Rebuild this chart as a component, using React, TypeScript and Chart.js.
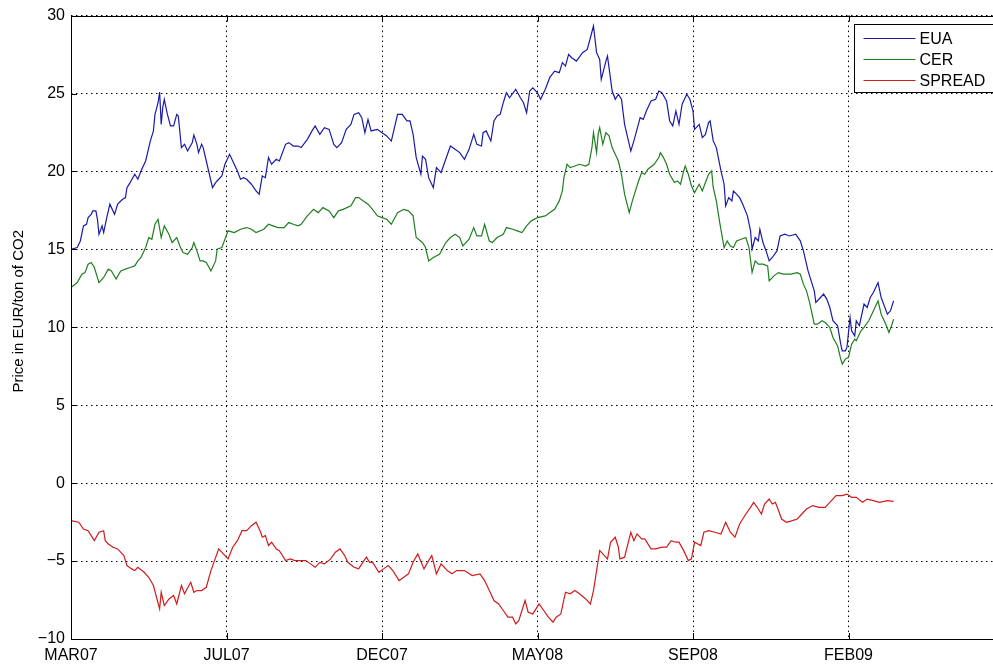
import React, { useEffect, useRef } from "react";
import { Chart, registerables } from "chart.js";

Chart.register(...registerables);

// ---- data (x = trading-day index, ticks every 100 days) ----
const xTickValues = [0, 100, 200, 300, 400, 500, 600];
const xTickLabels = ["MAR07", "JUL07", "DEC07", "MAY08", "SEP08", "FEB09", ""];
const yTickValues = [-10, -5, 0, 5, 10, 15, 20, 25, 30];
const seriesLabels = ["EUA", "CER", "SPREAD"];
const seriesColors = ["#1a1aa8", "#1f7f1f", "#d01c1c"];

const euaDays = [
  0, 4, 6, 8, 10, 11, 13, 14, 16, 17, 18, 20, 21, 23, 25, 28, 30, 33, 35, 36, 38, 41, 43, 45, 48, 51, 53, 54, 56, 57,
  58, 59, 60, 62, 64, 66, 68, 69, 71, 73, 75, 78, 79, 81, 82, 84, 85, 87, 91, 93, 95, 97, 99, 102, 104, 107, 109, 111,
  113, 116, 119, 121, 123, 125, 127, 129, 132, 134, 138, 140, 143, 146, 148, 152, 155, 157, 160, 163, 166, 169, 171,
  174, 177, 180, 182, 185, 187, 189, 191, 193, 197, 200, 203, 206, 210, 213, 216, 218, 220, 222, 225, 226, 228, 230,
  233, 235, 238, 241, 244, 247, 250, 253, 256, 259, 261, 264, 265, 267, 270, 272, 274, 276, 278, 280, 282, 286, 289,
  291, 293, 295, 297, 300, 302, 305, 308, 311, 314, 316, 318, 320, 322, 325, 329, 332, 334, 336, 338, 340, 341, 344,
  345, 346, 348, 350, 352, 354, 356, 360, 362, 364, 366, 368, 370, 373, 376, 378, 380, 383, 385, 387, 389, 391, 393,
  396, 398, 400, 401, 404, 406, 408, 410, 411, 413, 415, 418, 420, 421, 423, 425, 426, 428, 430, 432, 435, 437, 438,
  440, 442, 443, 445, 447, 449, 451, 454, 456, 459, 462, 466, 469, 471, 474, 478, 479, 482, 484, 486, 488, 490, 493,
  495, 496, 498, 499, 501, 502, 504, 505, 507, 510, 512, 514, 516, 519, 521, 525, 527, 529,
];
const euaPrices = [
  15.0, 15.12, 15.54, 16.51, 16.61, 17.04, 17.25, 17.47, 17.47, 16.93, 15.97, 16.51, 16.08, 17.04, 17.9, 17.25, 17.9,
  18.2, 18.32, 18.96, 19.28, 19.82, 19.5, 20.03, 20.67, 21.95, 22.6, 23.66, 24.41, 25.1, 23.02, 24.09, 24.63, 23.66,
  22.92, 22.92, 23.66, 23.56, 21.53, 21.74, 21.31, 21.85, 22.34, 21.74, 21.21, 21.74, 21.53, 20.67, 18.96, 19.28, 19.5,
  19.71, 20.46, 21.1, 20.67, 20.03, 19.5, 19.6, 19.5, 19.18, 18.75, 18.54, 19.71, 19.6, 20.89, 20.46, 20.78, 20.67,
  21.74, 21.85, 21.63, 21.63, 21.53, 22.06, 22.6, 22.92, 22.38, 22.81, 22.7, 21.74, 21.53, 21.85, 22.7, 23.02, 23.66,
  23.77, 23.45, 22.49, 23.34, 22.6, 22.7, 22.49, 22.28, 21.95, 23.66, 23.66, 23.24, 23.24, 22.38, 20.89, 19.82, 20.99,
  20.78, 19.6, 18.96, 20.25, 19.93, 20.78, 21.63, 21.42, 21.21, 20.78, 21.42, 22.38, 21.74, 21.63, 22.49, 22.6, 21.95,
  23.24, 23.56, 23.66, 24.41, 25.05, 24.73, 25.27, 24.73, 24.41, 23.77, 25.16, 25.37, 25.05, 24.63, 25.27, 26.05,
  26.44, 26.34, 26.98, 26.76, 27.51, 27.3, 27.08, 27.62, 27.83, 28.58, 29.33, 27.62, 27.19, 25.91, 27.08, 27.4, 26.66,
  25.16, 24.63, 24.95, 24.63, 23.02, 21.31, 21.96, 22.7, 23.45, 23.34, 23.88, 24.52, 24.63, 25.16, 25.05, 24.52, 23.24,
  22.92, 23.88, 23.02, 24.31, 24.95, 24.63, 23.88, 22.7, 23.02, 22.17, 22.38, 23.13, 23.24, 21.96, 21.53, 20.03, 19.18,
  17.79, 18.32, 18.11, 18.75, 18.54, 18.32, 17.9, 17.15, 16.19, 15.01, 15.76, 15.54, 16.29, 15.44, 14.9, 14.26, 14.48,
  14.9, 15.86, 15.97, 15.86, 15.97, 15.55, 14.9, 13.62, 12.34, 11.59, 11.91, 12.13, 11.81, 11.27, 10.42, 10.1, 8.92,
  8.49, 8.49, 8.71, 10.63, 9.78, 9.45, 10.42, 10.1, 11.49, 11.27, 11.91, 12.23, 12.87, 11.91, 10.84, 11.06, 11.7,
];

const cerDays = [
  0, 4, 7, 9, 11, 13, 15, 18, 21, 24, 26, 29, 32, 35, 38, 41, 43, 45, 48, 50, 52, 54, 56, 58, 60, 63, 65, 68, 70, 72,
  75, 78, 79, 81, 83, 85, 87, 90, 93, 94, 97, 99, 101, 105, 109, 113, 116, 119, 124, 127, 130, 133, 137, 140, 143, 146,
  148, 152, 156, 159, 162, 166, 169, 172, 175, 180, 183, 185, 188, 191, 193, 197, 200, 203, 206, 210, 214, 217, 220,
  222, 226, 228, 230, 233, 237, 241, 244, 247, 250, 252, 256, 259, 261, 264, 266, 269, 271, 274, 278, 280, 284, 287,
  290, 293, 296, 300, 305, 308, 311, 314, 316, 317, 319, 321, 324, 327, 331, 333, 335, 336, 338, 339, 340, 342, 344,
  346, 348, 350, 352, 354, 356, 359, 361, 363, 365, 367, 369, 371, 375, 378, 379, 381, 383, 385, 388, 390, 392, 394,
  395, 397, 399, 401, 404, 406, 408, 410, 412, 413, 415, 417, 420, 422, 424, 426, 428, 431, 434, 436, 438, 440, 442,
  445, 448, 449, 452, 455, 458, 463, 467, 469, 471, 473, 475, 478, 480, 483, 485, 488, 490, 493, 495, 496, 498, 500,
  502, 504, 505, 508, 510, 513, 515, 517, 519, 521, 524, 526, 528, 529,
];
const cerPrices = [
  12.55, 12.87, 13.41, 13.51, 14.05, 14.16, 13.84, 12.87, 13.2, 13.73, 13.62, 13.09, 13.62, 13.73, 13.84, 13.94, 14.26,
  14.48, 15.12, 15.76, 15.65, 16.61, 16.93, 15.76, 16.51, 15.97, 15.44, 15.76, 15.22, 14.8, 14.69, 15.12, 15.44, 14.9,
  14.26, 14.26, 14.16, 13.62, 14.26, 15.01, 15.12, 15.65, 16.19, 16.08, 16.29, 16.4, 16.29, 16.08, 16.29, 16.61, 16.51,
  16.4, 16.4, 16.72, 16.61, 16.51, 16.61, 17.15, 17.57, 17.36, 17.68, 17.47, 17.04, 17.47, 17.57, 17.79, 18.32, 18.32,
  18.11, 17.9, 17.68, 17.15, 17.04, 16.93, 16.61, 17.36, 17.57, 17.47, 17.15, 15.76, 15.44, 15.12, 14.26, 14.48, 14.69,
  15.44, 15.76, 15.97, 15.76, 15.22, 15.65, 16.4, 15.86, 15.86, 16.61, 15.54, 15.44, 15.76, 15.97, 16.4, 16.29, 16.19,
  16.08, 16.51, 16.83, 17.04, 17.15, 17.36, 17.57, 18.11, 18.75, 19.6, 20.46, 20.25, 20.35, 20.46, 20.35, 20.46, 21.53,
  22.49, 21.21, 22.38, 22.81, 21.74, 22.49, 22.28, 21.53, 21.1, 20.67, 19.82, 18.54, 17.36, 18.11, 18.75, 19.39, 19.93,
  19.82, 20.14, 20.46, 20.89, 21.21, 20.89, 20.46, 19.82, 19.29, 19.39, 19.18, 20.03, 20.35, 19.82, 19.07, 18.64,
  19.18, 18.75, 19.29, 19.82, 20.03, 18.97, 18.11, 16.83, 15.12, 15.54, 15.22, 15.12, 15.54, 15.65, 15.76, 15.12, 13.52,
  14.26, 14.05, 14.05, 13.94, 12.98, 13.3, 13.51, 13.41, 13.41, 13.51, 13.41, 12.77, 12.34, 11.59, 10.2, 10.2, 10.42,
  10.31, 9.99, 9.35, 8.81, 7.96, 7.64, 7.96, 8.07, 8.92, 9.24, 9.14, 9.78, 9.99, 10.42, 10.84, 11.27, 11.7, 10.84, 10.2,
  9.67, 10.2, 10.52,
];

const spreadDays = [
  0, 5, 8, 11, 13, 15, 18, 21, 22, 24, 27, 30, 34, 36, 39, 41, 43, 47, 50, 53, 55, 57, 58, 60, 63, 66, 68, 71, 73, 77,
  79, 81, 84, 87, 90, 95, 98, 101, 104, 107, 110, 113, 116, 119, 122, 123, 125, 127, 129, 132, 134, 138, 141, 144, 147,
  151, 154, 157, 160, 163, 167, 170, 173, 176, 178, 182, 185, 187, 190, 192, 194, 198, 201, 204, 207, 211, 214, 217,
  220, 223, 227, 230, 232, 235, 238, 242, 245, 248, 253, 258, 263, 266, 270, 272, 275, 278, 281, 284, 286, 288, 290,
  292, 294, 297, 301, 304, 307, 310, 312, 315, 318, 321, 324, 327, 331, 334, 336, 338, 340, 342, 345, 347, 350, 352,
  353, 356, 360, 362, 364, 367, 369, 373, 376, 380, 383, 386, 389, 391, 394, 397, 399, 401, 405, 407, 410, 414, 418,
  421, 424, 427, 430, 434, 437, 439, 442, 444, 446, 449, 451, 453, 455, 457, 460, 464, 467, 470, 473, 477, 481, 485,
  488, 492, 496, 499, 502, 505, 509, 512, 516, 520, 525, 529,
];
const spreadValues = [
  -2.4, -2.51, -2.94, -3.05, -3.37, -3.69, -3.15, -3.05, -3.69, -3.9, -4.11, -4.22, -4.65, -5.29, -5.5, -5.61, -5.4,
  -5.72, -6.04, -6.57, -7.32, -8.07, -7.0, -7.85, -7.43, -7.21, -7.75, -6.57, -7.1, -6.36, -7.0, -6.89, -6.89, -6.68,
  -5.61, -4.22, -4.54, -4.86, -4.11, -3.69, -3.05, -3.05, -2.73, -2.51, -3.15, -3.47, -3.37, -4.0, -3.79, -4.22, -4.33,
  -4.97, -4.86, -4.97, -4.97, -4.97, -5.18, -5.4, -5.08, -5.18, -4.86, -4.43, -4.22, -4.65, -5.08, -5.4, -5.5, -5.18,
  -4.75, -5.08, -5.08, -5.72, -5.5, -5.29, -5.61, -6.25, -6.04, -5.82, -5.08, -4.54, -5.5, -4.97, -4.65, -5.82, -5.18,
  -5.61, -5.82, -5.61, -5.61, -5.93, -5.82, -6.25, -7.1, -7.53, -7.75, -8.17, -8.6, -8.6, -9.03, -8.81, -8.17, -7.53,
  -8.28, -8.39, -7.75, -8.17, -8.6, -8.92, -8.6, -8.39, -7.0, -7.1, -6.89, -7.1, -7.43, -7.75, -6.89, -5.61, -4.33,
  -4.54, -4.86, -3.79, -3.47, -4.11, -4.86, -4.75, -3.15, -3.69, -3.26, -3.58, -3.58, -4.22, -4.22, -4.11, -4.11, -3.69,
  -3.79, -3.79, -4.33, -4.97, -4.86, -3.79, -4.0, -3.15, -3.05, -3.15, -3.26, -2.51, -3.15, -3.47, -2.62, -1.98, -1.55,
  -1.23, -1.66, -1.98, -1.34, -1.02, -1.34, -1.23, -1.76, -2.3, -2.51, -2.4, -2.3, -1.98, -1.66, -1.44, -1.55, -1.55,
  -1.23, -0.8, -0.8, -0.7, -0.91, -0.91, -1.23, -1.02, -1.12, -1.23, -1.12, -1.17,
];

const yAxisTitle = "Price in EUR/ton of CO2";
const FONT = "'Liberation Sans', Arial, Helvetica, sans-serif";

const toPoints = (xs: number[], ys: number[]) => xs.map((x, i) => ({ x, y: ys[i] }));

// axes box, inward ticks, y label and legend (MATLAB style)
const matlabFrame = {
  id: "matlabFrame",
  afterDatasetsDraw(chart: any) {
    const { ctx, chartArea, scales } = chart;
    const { left, right, top, bottom } = chartArea;
    const xs = scales.x;
    const ys = scales.y;
    ctx.save();
    ctx.strokeStyle = "#000";
    ctx.lineWidth = 1;
    ctx.setLineDash([]);
    ctx.strokeRect(Math.round(left) + 0.5, Math.round(top) + 0.5, Math.round(right - left), Math.round(bottom - top));
    const tl = 6;
    ctx.beginPath();
    xTickValues.forEach((v) => {
      const px = Math.round(xs.getPixelForValue(v)) + 0.5;
      ctx.moveTo(px, bottom);
      ctx.lineTo(px, bottom - tl);
      ctx.moveTo(px, top);
      ctx.lineTo(px, top + tl);
    });
    yTickValues.forEach((v) => {
      const py = Math.round(ys.getPixelForValue(v)) + 0.5;
      ctx.moveTo(left, py);
      ctx.lineTo(left + tl, py);
      ctx.moveTo(right, py);
      ctx.lineTo(right - tl, py);
    });
    ctx.stroke();

    // y-axis label
    ctx.save();
    ctx.translate(19, (top + bottom) / 2 - 16);
    ctx.rotate(-Math.PI / 2);
    ctx.fillStyle = "#000";
    ctx.font = `15px ${FONT}`;
    ctx.textAlign = "center";
    ctx.textBaseline = "middle";
    ctx.fillText(yAxisTitle, 0, 0);
    ctx.restore();

    // legend
    const bx = Math.round(right) - 150 + 0.5;
    const by = Math.round(top) + 8 + 0.5;
    const bw = 142;
    const bh = 68;
    ctx.fillStyle = "#fff";
    ctx.fillRect(bx, by, bw, bh);
    ctx.strokeStyle = "#000";
    ctx.lineWidth = 1;
    ctx.strokeRect(bx, by, bw, bh);
    ctx.font = `16px ${FONT}`;
    ctx.textBaseline = "middle";
    ctx.textAlign = "left";
    chart.data.datasets.forEach((ds: any, i: number) => {
      const cy = by + 14 + i * 21;
      ctx.strokeStyle = ds.borderColor;
      ctx.lineWidth = 1.2;
      ctx.beginPath();
      ctx.moveTo(bx + 9, cy);
      ctx.lineTo(bx + 61, cy);
      ctx.stroke();
      ctx.fillStyle = "#000";
      ctx.fillText(ds.label, bx + 65, cy + 1);
    });
    ctx.restore();
  },
};

export default function App() {
  const canvasRef = useRef<HTMLCanvasElement | null>(null);

  useEffect(() => {
    if (!canvasRef.current) return;
    const chart = new Chart(canvasRef.current, {
      type: "line",
      data: {
        datasets: [
          { label: seriesLabels[0], data: toPoints(euaDays, euaPrices), borderColor: seriesColors[0] },
          { label: seriesLabels[1], data: toPoints(cerDays, cerPrices), borderColor: seriesColors[1] },
          { label: seriesLabels[2], data: toPoints(spreadDays, spreadValues), borderColor: seriesColors[2] },
        ].map((d) => ({ ...d, borderWidth: 1.2, pointRadius: 0, tension: 0, fill: false })),
      },
      options: {
        animation: false,
        responsive: false,
        devicePixelRatio: 1,
        layout: { padding: { top: 14, right: 8, bottom: 0, left: 0 } },
        plugins: { legend: { display: false }, tooltip: { enabled: false } },
        scales: {
          x: {
            type: "linear",
            min: 0,
            max: 600,
            afterBuildTicks: (scale: any) => {
              scale.ticks = xTickValues.map((v) => ({ value: v }));
            },
            afterFit: (scale: any) => {
              scale.height = 25;
            },
            ticks: {
              autoSkip: false,
              maxRotation: 0,
              padding: 7,
              color: "#000",
              font: { family: FONT, size: 16 },
              callback: (v: any) => {
                const idx = xTickValues.indexOf(Number(v));
                return idx >= 0 ? xTickLabels[idx] : "";
              },
            },
            grid: { color: "#000", lineWidth: 1, drawTicks: false },
            border: { display: false, dash: [1.5, 3.5] },
          },
          y: {
            type: "linear",
            min: -10,
            max: 30,
            afterBuildTicks: (scale: any) => {
              scale.ticks = yTickValues.map((v) => ({ value: v }));
            },
            afterFit: (scale: any) => {
              scale.width = 71;
            },
            ticks: {
              padding: 6,
              color: "#000",
              font: { family: FONT, size: 16 },
              callback: (v: any) => (Number(v) < 0 ? "\u2212" + Math.abs(Number(v)) : String(v)),
            },
            grid: { color: "#000", lineWidth: 1, drawTicks: false },
            border: { display: false, dash: [1.5, 3.5] },
          },
        },
      },
      plugins: [matlabFrame],
    });
    return () => chart.destroy();
  }, []);

  return (
    <div
      style={{
        position: "fixed",
        left: 0,
        top: 0,
        width: 993,
        height: 664,
        overflow: "hidden",
        background: "#fff",
      }}
    >
      <canvas ref={canvasRef} width={1012} height={664} style={{ display: "block", width: 1012, height: 664 }} />
    </div>
  );
}
